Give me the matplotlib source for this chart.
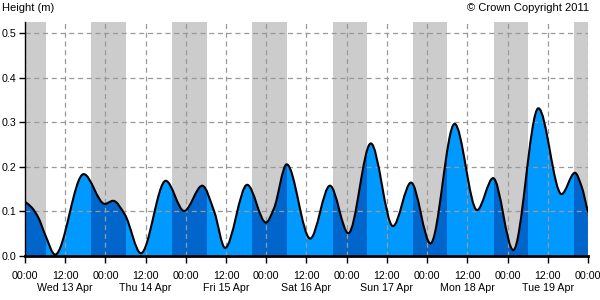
import numpy as np
import matplotlib
matplotlib.use("Agg")
import matplotlib.pyplot as plt
from matplotlib.path import Path
from matplotlib.patches import PathPatch

# tide heights (hours from Wed 13 Apr 00:00, metres)
hours = [0.0, 2.0, 4.0, 6.0, 9.0, 17.5, 23.8, 26.3, 29.8, 34.6, 42.0, 47.5,
         52.9, 56.5, 59.7, 66.3, 71.9, 74.3, 78.1, 85.1, 91.0, 96.5, 103.2,
         109.8, 115.2, 121.0, 128.2, 134.9, 139.7, 145.7, 153.2, 160.1,
         164.1, 166.1, 168.0]
height = [0.121, 0.108, 0.085, 0.047, 0.002, 0.183, 0.116, 0.123, 0.092,
          0.005, 0.168, 0.100, 0.157, 0.098, 0.017, 0.159, 0.074, 0.106,
          0.205, 0.038, 0.157, 0.050, 0.252, 0.066, 0.164, 0.027, 0.296,
          0.102, 0.174, 0.012, 0.331, 0.138, 0.186, 0.155, 0.097]

# sunrise / sunset for each day (hours after midnight)
sunrise = [6.25, 6.21, 6.18, 6.14, 6.10, 6.06, 6.03]
sunset = [19.78, 19.81, 19.84, 19.87, 19.90, 19.94, 19.97]
days = ["Wed 13 Apr", "Thu 14 Apr", "Fri 15 Apr", "Sat 16 Apr",
        "Sun 17 Apr", "Mon 18 Apr", "Tue 19 Apr"]

light = "#0099ff"
dark = "#0066cc"
night_grey = "#cccccc"

plt.rcParams['font.family'] = ['Liberation Sans', 'DejaVu Sans']
plt.rcParams['font.size'] = 7.7


def slopes(x, y):
    # monotone (pchip style) tangents so turning points stay flat
    x = np.asarray(x, float)
    y = np.asarray(y, float)
    h = np.diff(x)
    d = np.diff(y) / h
    m = np.zeros_like(y)
    for k in range(1, len(y) - 1):
        if d[k - 1] * d[k] > 0:
            w1 = 2 * h[k] + h[k - 1]
            w2 = h[k] + 2 * h[k - 1]
            m[k] = (w1 + w2) / (w1 / d[k - 1] + w2 / d[k])
    m[0] = d[0]
    m[-1] = d[-1]
    return m


def curve(x, y):
    m = slopes(x, y)
    verts = [(x[0], y[0])]
    codes = [Path.MOVETO]
    for k in range(len(x) - 1):
        dx = (x[k + 1] - x[k]) / 3
        verts += [(x[k] + dx, y[k] + m[k] * dx),
                  (x[k + 1] - dx, y[k + 1] - m[k + 1] * dx),
                  (x[k + 1], y[k + 1])]
        codes += [Path.CURVE4] * 3
    return verts, codes


fig = plt.figure(figsize=(6, 3), dpi=100)
ax = fig.add_axes([25 / 600, 44.5 / 300, 563 / 600, 233.5 / 300])

# night periods
nights = [(0, sunrise[0])]
for d in range(len(days)):
    end = 24 * (d + 1) + sunrise[d + 1] if d + 1 < len(days) else 168
    nights.append((24 * d + sunset[d], end))

for a, b in nights:
    ax.axvspan(a, b, color=night_grey, lw=0, zorder=0.5)

verts, codes = curve(hours, height)
fill_path = Path(verts + [(hours[-1], 0), (hours[0], 0), (hours[0], height[0])],
                 codes + [Path.LINETO, Path.LINETO, Path.CLOSEPOLY])
fill = PathPatch(fill_path, fc=light, ec='none', zorder=1)
ax.add_patch(fill)
for a, b in nights:
    span = ax.axvspan(a, b, color=dark, lw=0, zorder=1.1)
    span.set_clip_path(fill)

ax.add_patch(PathPatch(Path(verts, codes), fill=False, ec='black', lw=1.5,
                       zorder=3, capstyle='butt', joinstyle='round'))

ax.set_xlim(0, 168)
ax.set_ylim(0, 0.525)

xticks = np.arange(0, 169, 12)
xlabels = []
for t in xticks:
    if t % 24 == 0:
        xlabels.append("00:00")
    else:
        xlabels.append("12:00\n" + days[int(t // 24)])
ax.set_xticks(xticks)
ax.set_xticklabels(xlabels, linespacing=1.3, va='top')
ax.set_yticks(np.arange(0, 0.51, 0.1))
ax.set_yticklabels(["%.1f" % v for v in np.arange(0, 0.51, 0.1)])

ax.set_axisbelow(False)
ax.grid(True, color='#999999', ls=(0, (4, 3)), lw=0.9)
ax.tick_params(axis='x', length=5, width=1, pad=6, colors='black')
ax.tick_params(axis='y', length=4, width=1, pad=2, colors='black')

for s in ['top', 'right']:
    ax.spines[s].set_visible(False)
ax.spines['left'].set_linewidth(1)
ax.spines['bottom'].set_linewidth(2)
ax.spines['left'].set_zorder(4)
ax.spines['bottom'].set_zorder(4)

fig.text(2 / 600, 1 - 8 / 300, "Height (m)", ha='left', va='center', fontsize=8)
fig.text(589 / 600, 1 - 8 / 300, "\u00a9 Crown Copyright 2011", ha='right',
         va='center', fontsize=8)

fig.savefig("out.png", dpi=100)
